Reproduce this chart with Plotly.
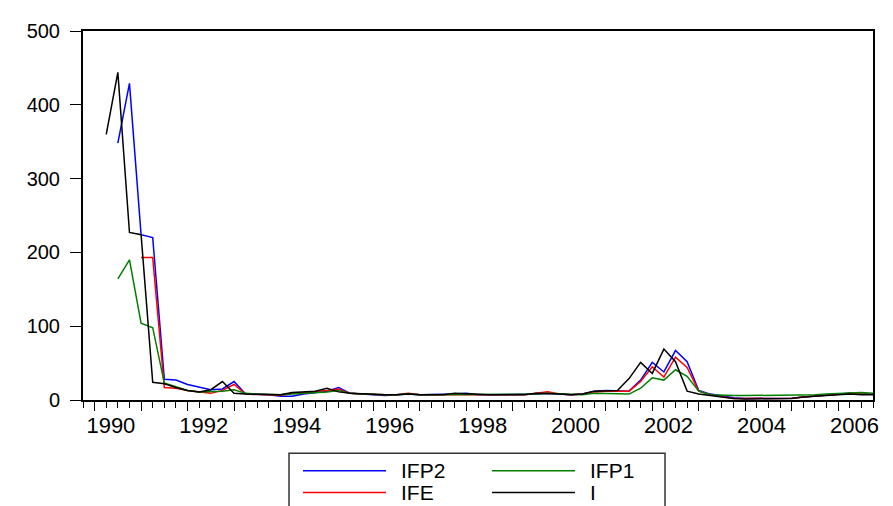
import pandas as pd
import plotly.graph_objects as go

# quarterly sample shown on the chart (first observation 1990Q2)
quarters = pd.period_range("1990Q2", "2006Q4", freq="Q")

# series values (None = not available)
ifp2 = [None, 348, 429, 224, 220, 28, 27, 21, 18, 14, 15, 25, 8, 8, 7, 5, 5, 8, 10, 12,
        17, 9, 8, 7, 6, 7, 8, 7, 7, 7, 8, 9, 7, 7, 7, 7, 7, 8, 9, 8,
        7, 8, 12, 13, 13, 12, 27, 51, 38, 67, 52, 13, 8, 5, 3, 2, 2, 2, 2, 2.5,
        4, 5, 7, 8, 9, 8, 8]
ife = [None, None, None, 193, 193, 17, 16, 13, 11, 9, 13, 21, 8, 8, 7, 6, 9, 10, 11, 13,
       15, 9, 8, 7, 7, 7, 9, 7, 7, 7, 8, 8, 7, 7, 7, 7, 7, 9, 11, 8,
       7, 8, 11, 12, 12, 12, 25, 45, 31, 58, 44, 12, 7, 4, 2, 2, 2, 2, 2, 2.5,
       4, 5, 7, 8, 9, 8, 8]
ifp1 = [None, 164, 190, 104, 98, 23, 18, 13, 11, 11, 12, 14, 9, 8, 7, 7, 8, 9, 9, 11,
        13, 9, 8, 7, 7, 7, 8, 7, 7, 7, 8, 7, 7, 7, 7, 7, 7, 8, 9, 8,
        7, 7, 9, 9, 9, 8, 16, 30, 27, 41, 32, 12, 7, 6, 6, 6, 6, 6, 6, 6,
        6.5, 7, 8, 9, 10, 10, 9]
i_series = [360, 444, 227, 224, 24, 22, 17, 13, 11, 14, 25, 9, 8, 8, 7, 7, 10, 11, 12, 16,
            11, 9, 8, 7, 7, 7, 8, 7, 7, 7, 9, 8, 7, 7, 7, 7, 7, 9, 9, 8,
            7, 8, 12, 12, 13, 29, 51, 36, 69, 52, 12, 8, 6, 3, 2, 1.5, 1.5, 1.5, 1.5, 2,
            4, 5, 7, 8, 8, 7, 7]

label_years = [1990, 1992, 1994, 1996, 1998, 2000, 2002, 2004, 2006]
y_ticks = [0, 100, 200, 300, 400, 500]

x = [q.year + (q.quarter - 1) / 4 for q in quarters]                          # decimal year positions

series = [("IFP2", ifp2, "#0000ff"),
          ("IFE", ife, "#ff0000"),
          ("IFP1", ifp1, "#008000"),
          ("I", i_series, "#000000")]

fig = go.Figure()
for name, vals, col in series:
    fig.add_trace(go.Scatter(
        x=x, y=vals, mode="lines", name=name,
        line=dict(color=col, width=1.5),
        xaxis="x2" if name == "I" else "x"))                                  # black on label axis so it gets drawn

# page puts the figure 8px in from the corner (body margin)
OFF = 8
W, H = 893 - OFF, 506 - OFF
# plot area in screen pixels: x 83..873, y 25..400
L, R, T, B = 83 - OFF, 873 - OFF, 25 - OFF, 400 - OFF
def px(xp, yp):                                                                # screen px -> paper coords
    return (xp - OFF - L) / (R - L), (B - (yp - OFF)) / (B - T)

xr = [1989.75, 2006.75]
fig.update_layout(
    width=W, height=H,
    margin=dict(l=L, r=W - R, t=T, b=H - B),
    plot_bgcolor="white", paper_bgcolor="white",
    showlegend=False,
    font=dict(family="Liberation Sans, Arial, sans-serif", color="black"),
    xaxis=dict(range=xr, tickmode="linear", tick0=1990, dtick=1,
               ticks="outside", ticklen=9, tickwidth=1, tickcolor="black",
               showticklabels=False, showline=True, linewidth=2, linecolor="black",
               mirror=True, showgrid=False, zeroline=False,
               minor=dict(tick0=1990, dtick=0.25, ticks="outside", ticklen=6,
                          tickwidth=1, tickcolor="black", showgrid=False)),
    xaxis2=dict(range=xr, overlaying="x", anchor="y", side="bottom",
                tickmode="array", tickvals=[yr + 0.35 for yr in label_years],
                ticktext=[str(yr) for yr in label_years], ticks="",
                showline=False, showgrid=False, zeroline=False,
                tickfont=dict(size=22), ticklabelstandoff=10),
    yaxis=dict(range=[0, 500], tickmode="array", tickvals=y_ticks,
               ticks="outside", ticklen=11, tickwidth=1, tickcolor="black",
               showline=True, linewidth=2, linecolor="black", mirror=True,
               showgrid=False, zeroline=False,
               tickfont=dict(size=20), ticklabelstandoff=6),
)

# legend box drawn by hand (long line samples, two columns)
x0, y0 = px(289, 454)
x1, y1 = px(665, 530)
fig.add_shape(type="rect", xref="paper", yref="paper", x0=x0, y0=y0, x1=x1, y1=y1,
              line=dict(color="#333333", width=1.5), fillcolor="white", layer="above")

legend_pos = {"IFP2": (303, 472), "IFP1": (492, 472), "IFE": (303, 494), "I": (492, 494)}
for name, vals, col in series:
    lx, ly = legend_pos[name]
    a, b = px(lx, ly)
    c, _ = px(lx + 83, ly)
    fig.add_shape(type="line", xref="paper", yref="paper", x0=a, y0=b, x1=c, y1=b,
                  line=dict(color=col, width=1.5))
    t, _ = px(lx + 96, ly)
    fig.add_annotation(xref="paper", yref="paper", x=t, y=b, text=name, showarrow=False,
                       xanchor="left", yanchor="middle", font=dict(size=21))

fig.write_html("out.html")
